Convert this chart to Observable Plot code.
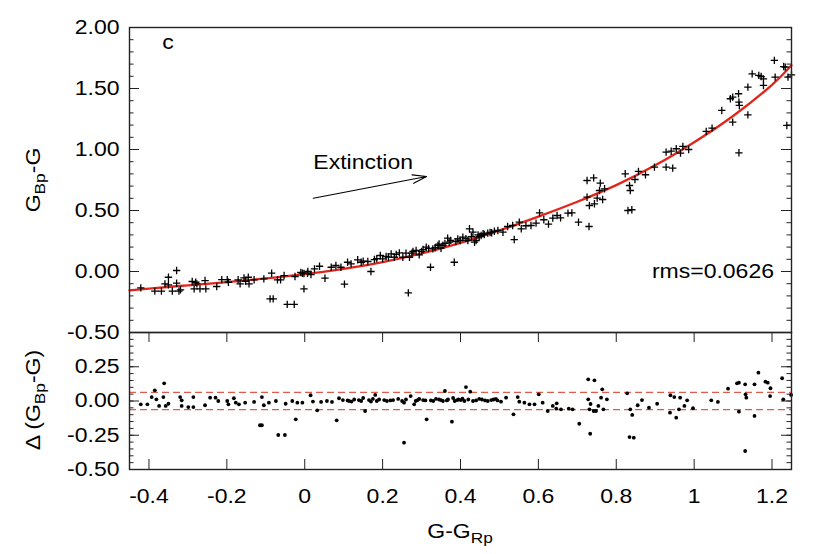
<!DOCTYPE html>
<html><head><meta charset="utf-8">
<script src="https://cdn.jsdelivr.net/npm/d3@7"></script>
<script src="https://cdn.jsdelivr.net/npm/@observablehq/plot@0.6"></script>
<style>
body{margin:0;background:#fff;}
#chart{position:relative;width:830px;height:554px;overflow:hidden;font-family:"Liberation Sans",Arial,sans-serif;}
#chart svg{position:absolute;left:0;}
</style></head><body><div id="chart"></div>
<script>
// ---- data ----
const topX = [-0.421,-0.385,-0.368,-0.359,-0.350,-0.350,-0.340,-0.329,-0.329,-0.323,-0.319,-0.289,-0.284,-0.280,-0.277,-0.269,-0.256,-0.254,-0.226,-0.213,-0.199,-0.196,-0.171,-0.166,-0.156,-0.152,-0.145,-0.143,-0.130,-0.105,-0.089,-0.081,-0.085,-0.070,-0.062,-0.053,-0.045,-0.027,-0.025,-0.010,-0.006,-0.002,-0.002,0.007,0.008,0.016,0.025,0.038,0.052,0.068,0.080,0.093,0.102,0.110,0.119,0.136,0.145,0.150,0.162,0.170,0.179,0.185,0.194,0.200,0.209,0.215,0.222,0.230,0.235,0.243,0.252,0.260,0.266,0.269,0.275,0.278,0.286,0.294,0.300,0.304,0.312,0.318,0.323,0.329,0.335,0.342,0.345,0.350,0.355,0.360,0.367,0.371,0.375,0.384,0.388,0.393,0.399,0.406,0.414,0.419,0.423,0.428,0.432,0.436,0.440,0.445,0.448,0.453,0.458,0.461,0.470,0.476,0.480,0.487,0.496,0.509,0.521,0.534,0.538,0.551,0.556,0.568,0.581,0.594,0.603,0.614,0.626,0.637,0.648,0.657,0.676,0.686,0.703,0.725,0.725,0.730,0.731,0.742,0.744,0.751,0.757,0.759,0.765,0.770,0.823,0.830,0.834,0.836,0.840,0.848,0.857,0.875,0.898,0.928,0.928,0.941,0.945,0.954,0.965,0.971,0.986,1.031,1.046,1.071,1.093,1.099,1.099,1.114,1.115,1.116,1.115,1.138,1.138,1.149,1.166,1.172,1.178,1.178,1.206,1.208,1.230,1.234,1.241,1.238,1.250];
const topY = [-0.134,-0.161,-0.161,-0.101,-0.047,-0.109,-0.161,0.008,-0.096,-0.161,-0.150,-0.082,-0.142,-0.088,-0.101,-0.142,-0.074,-0.142,-0.123,-0.066,-0.066,-0.088,-0.068,-0.101,-0.052,-0.080,-0.047,-0.101,-0.068,-0.060,-0.224,-0.224,-0.014,-0.068,-0.068,-0.033,-0.270,-0.270,-0.041,-0.008,-0.014,-0.142,-0.016,-0.014,0.000,-0.025,0.022,0.043,-0.055,0.035,0.049,0.035,-0.104,0.076,0.063,0.096,0.076,0.085,0.082,0.000,0.098,0.105,0.131,0.104,0.123,0.118,0.145,0.117,0.140,0.153,0.117,0.150,-0.175,0.117,0.150,0.164,0.172,0.137,0.165,0.180,0.199,0.190,0.035,0.186,0.195,0.213,0.225,0.191,0.215,0.230,0.273,0.240,0.255,0.076,0.245,0.268,0.254,0.281,0.270,0.254,0.350,0.285,0.322,0.240,0.254,0.300,0.287,0.295,0.310,0.303,0.314,0.320,0.318,0.330,0.336,0.322,0.369,0.377,0.262,0.404,0.350,0.375,0.377,0.396,0.481,0.424,0.388,0.437,0.459,0.440,0.478,0.481,0.404,0.746,0.609,0.369,0.541,0.768,0.555,0.601,0.664,0.724,0.590,0.678,0.801,0.500,0.705,0.664,0.506,0.754,0.820,0.793,0.855,0.978,0.855,0.986,0.847,1.006,0.970,1.025,1.000,1.148,1.175,1.320,1.416,1.429,1.224,1.457,1.388,1.361,0.973,1.511,1.284,1.620,1.607,1.598,1.579,1.525,1.730,1.593,1.680,1.675,1.593,1.197,1.612];

const resX = [-0.421,-0.404,-0.393,-0.385,-0.381,-0.374,-0.363,-0.361,-0.357,-0.350,-0.320,-0.316,-0.316,-0.299,-0.286,-0.286,-0.256,-0.243,-0.229,-0.222,-0.199,-0.196,-0.182,-0.177,-0.169,-0.153,-0.130,-0.115,-0.110,-0.110,-0.105,-0.092,-0.074,-0.068,-0.051,-0.049,-0.032,-0.023,-0.019,-0.006,0.015,0.021,0.032,0.042,0.057,0.070,0.082,0.088,0.098,0.110,0.114,0.120,0.127,0.139,0.145,0.150,0.155,0.165,0.170,0.175,0.181,0.185,0.191,0.204,0.211,0.220,0.227,0.240,0.250,0.255,0.255,0.260,0.272,0.281,0.285,0.290,0.294,0.304,0.310,0.313,0.324,0.330,0.337,0.345,0.350,0.355,0.360,0.365,0.368,0.378,0.381,0.385,0.391,0.395,0.401,0.405,0.410,0.414,0.420,0.425,0.432,0.440,0.448,0.455,0.463,0.470,0.479,0.485,0.491,0.495,0.504,0.517,0.536,0.547,0.551,0.564,0.577,0.590,0.601,0.611,0.624,0.637,0.647,0.646,0.658,0.678,0.688,0.705,0.728,0.728,0.731,0.733,0.734,0.744,0.742,0.748,0.754,0.764,0.761,0.767,0.776,0.828,0.836,0.841,0.834,0.845,0.855,0.866,0.884,0.905,0.939,0.938,0.949,0.954,0.964,0.961,0.975,0.982,0.997,1.044,1.061,1.087,1.110,1.115,1.115,1.131,1.132,1.134,1.131,1.155,1.155,1.165,1.183,1.189,1.196,1.195,1.226,1.229,1.249];
const resY = [-0.024,-0.024,0.029,0.078,0.012,-0.036,0.029,0.129,-0.036,-0.020,0.029,0.005,-0.036,-0.044,0.029,-0.044,-0.031,0.024,0.024,0.000,0.000,-0.024,0.020,-0.012,-0.024,-0.012,-0.007,-0.177,-0.177,0.029,-0.031,-0.012,0.000,-0.248,-0.248,-0.020,0.000,-0.134,-0.012,-0.012,0.042,-0.004,-0.068,-0.007,0.000,-0.007,-0.141,0.020,0.007,0.004,0.000,-0.004,0.011,0.007,0.000,0.022,-0.073,0.007,-0.004,0.015,0.044,0.000,0.011,0.007,0.000,0.004,0.007,0.015,0.000,-0.012,-0.304,0.011,0.036,-0.024,0.000,0.007,0.015,0.007,0.004,-0.134,0.004,0.000,0.015,0.011,0.007,0.000,0.073,0.004,0.011,-0.151,0.022,0.000,0.007,0.011,0.007,0.018,0.000,0.102,0.011,0.068,0.000,0.004,0.015,0.011,0.004,0.000,0.007,0.011,0.015,0.004,-0.005,0.024,-0.097,0.029,-0.005,-0.012,-0.024,-0.024,0.049,-0.012,-0.073,-0.036,-0.017,-0.056,-0.061,-0.056,-0.061,-0.166,0.158,0.012,-0.061,-0.239,-0.022,0.151,-0.073,-0.073,-0.036,0.085,0.024,-0.061,0.012,0.056,-0.061,-0.102,-0.263,-0.268,-0.031,0.007,-0.049,-0.020,0.042,-0.085,0.029,-0.122,0.024,-0.061,-0.036,0.005,-0.053,0.005,-0.007,0.090,0.129,0.134,-0.078,0.122,0.049,0.024,-0.365,0.122,-0.109,0.207,0.141,0.134,0.093,0.036,0.166,0.012,0.044];

const fitX = [-0.45,-0.4,-0.3,-0.2,-0.1,0,0.1,0.2,0.3,0.4,0.5,0.6,0.7,0.8,0.9,1.0,1.1,1.2,1.25];
const fitY = [-0.155,-0.14,-0.113,-0.087,-0.057,-0.022,0.022,0.077,0.148,0.235,0.337,0.45,0.572,0.708,0.87,1.06,1.275,1.53,1.69];

const rms = 0.0626;
const xTicks = [-0.4,-0.2,0,0.2,0.4,0.6,0.8,1,1.2];
const xTickLabels = ["-0.4","-0.2","0","0.2","0.4","0.6","0.8","1","1.2"];
const yTopTicks = [-0.5,0,0.5,1,1.5,2];
const yTopLabels = ["-0.50","0.00","0.50","1.00","1.50","2.00"];
const yResTicks = [-0.5,-0.25,0,0.25];
const yResLabels = ["-0.50","-0.25","0.00","0.25"];
const yResMajor = [-0.5,-0.25,0,0.25,0.5];

// ---- layout ----
const W = 830, L = 129, R = 39;
const topFrameBottom = 332, topMT = 27, topExtra = 14;
const botH = 222, botMB = 85;
const frameW = W - L - R;
const botFrameH = botH - botMB;
const ink = "#222";
const fontStyle = {fontSize: "20px", fontFamily: "'Liberation Sans', Arial, sans-serif", background: "transparent", color: "#000", overflow: "visible"};

const topData = topX.map((x, i) => ({x, y: topY[i]}));
const resData = resX.map((x, i) => ({x, y: resY[i]}));
const fitData = fitX.map((x, i) => ({x, y: fitY[i]}));
const topMinor = d3.range(-5, 21).map(k => k / 10);
const resMinor = d3.range(-10, 11).map(k => k / 20);

function yTickMarks(minor, major, minorLen, majorLen) {
  return [
    Plot.tickY(minor, {y: d => d, stroke: ink, strokeWidth: 1, insetRight: frameW - minorLen}),
    Plot.tickY(major, {y: d => d, stroke: ink, strokeWidth: 1, insetRight: frameW - majorLen}),
    Plot.tickY(minor, {y: d => d, stroke: ink, strokeWidth: 1, insetLeft: frameW - minorLen}),
    Plot.tickY(major, {y: d => d, stroke: ink, strokeWidth: 1, insetLeft: frameW - majorLen})
  ];
}

const topPlot = Plot.plot({
  width: W, height: topFrameBottom + topExtra,
  marginLeft: L, marginRight: R, marginTop: topMT, marginBottom: topExtra,
  style: fontStyle,
  x: {domain: [-0.45, 1.25], axis: null},
  y: {domain: [-0.5, 2.0], axis: null},
  marks: [
    ...yTickMarks(topMinor, yTopTicks, 4.5, 10),
    Plot.axisY(yTopTicks, {tickSize: 0, tickPadding: 10, tickFormat: d => yTopLabels[yTopTicks.indexOf(d)], fill: "#000", label: null}),
    Plot.line(fitData, {x: "x", y: "y", stroke: "#e3241b", strokeWidth: 2.3, curve: "natural"}),
    Plot.dot(topData, {x: "x", y: "y", symbol: "plus", r: 2.5, stroke: "#000", strokeWidth: 1.3}),
    Plot.text(["c"], {x: -0.351, y: 1.877, text: d => d, textAnchor: "middle", lineAnchor: "middle", fontSize: 20, fill: "#000"}),
    Plot.text(["Extinction"], {x: 0.022, y: 0.893, text: d => d, textAnchor: "start", lineAnchor: "middle", fontSize: 20, fill: "#000"}),
    Plot.text(["rms=" + rms.toFixed(4)], {x: 1.205, y: 0.0, text: d => d, textAnchor: "end", lineAnchor: "middle", fontSize: 20, fill: "#000"}),
    Plot.arrow([{x1: 0.022, y1: 0.60, x2: 0.313, y2: 0.779}], {x1: "x1", y1: "y1", x2: "x2", y2: "y2", stroke: "#000", strokeWidth: 1.1, headAngle: 34, headLength: 20}),
    Plot.frame({stroke: ink, strokeWidth: 1.4})
  ]
});

const botPlot = Plot.plot({
  width: W, height: botH,
  marginLeft: L, marginRight: R, marginTop: 0, marginBottom: botMB,
  style: fontStyle,
  x: {domain: [-0.45, 1.25], axis: null},
  y: {domain: [-0.5, 0.5], axis: null},
  marks: [
    ...yTickMarks(resMinor, yResMajor, 4.5, 10),
    Plot.tickX(xTicks, {x: d => d, stroke: ink, strokeWidth: 1, insetBottom: botFrameH - 10}),
    Plot.tickX(xTicks, {x: d => d, stroke: ink, strokeWidth: 1, insetTop: botFrameH - 10}),
    Plot.axisY(yResTicks, {tickSize: 0, tickPadding: 10, tickFormat: d => yResLabels[yResTicks.indexOf(d)], fill: "#000", label: null}),
    Plot.axisX(xTicks, {tickSize: 0, tickPadding: 19, tickFormat: d => xTickLabels[xTicks.indexOf(d)], fill: "#000", label: null}),
    Plot.ruleY([rms, -rms], {stroke: "#e05a4e", strokeWidth: 1.2, strokeDasharray: "7,4"}),
    Plot.dot(resData, {x: "x", y: "y", r: 1.9, fill: "#000"}),
    Plot.frame({stroke: ink, strokeWidth: 1.4})
  ]
});

const chart = document.getElementById("chart");
topPlot.style.top = "0px";
botPlot.style.top = topFrameBottom + "px";
chart.appendChild(topPlot);
chart.appendChild(botPlot);

// axis titles as real text with subscripts
const overlay = d3.select(chart).append("svg")
  .attr("width", W).attr("height", 554)
  .style("position", "absolute").style("top", "0px").style("left", "0px")
  .attr("font-family", "'Liberation Sans', Arial, sans-serif").attr("font-size", 20);

function title(x, y, rot, parts) {
  const t = overlay.append("text").attr("text-anchor", "middle")
    .attr("transform", `translate(${x},${y}) rotate(${rot})`).attr("dy", "0.35em");
  let shift = 0;
  parts.forEach(([s, sub]) => {
    const target = sub ? 5 : 0;
    t.append("tspan").attr("dy", target - shift).attr("font-size", sub ? 15 : 20).text(s);
    shift = target;
  });
}
title(40, 180, -90, [["G", false], ["Bp", true], ["-G", false]]);
title(40, 400, -90, [["Δ (G", false], ["Bp", true], ["-G)", false]]);
title(460, 538, 0, [["G-G", false], ["Rp", true]]);

// horizontal stretch of the lettering, as in the reference
function stretch(root, k) {
  root.querySelectorAll("text").forEach(t => {
    const len = t.getComputedTextLength();
    if (len > 0) { t.setAttribute("textLength", (len * k).toFixed(1)); t.setAttribute("lengthAdjust", "spacingAndGlyphs"); }
  });
}
stretch(chart, 1.15);
</script></body></html>
